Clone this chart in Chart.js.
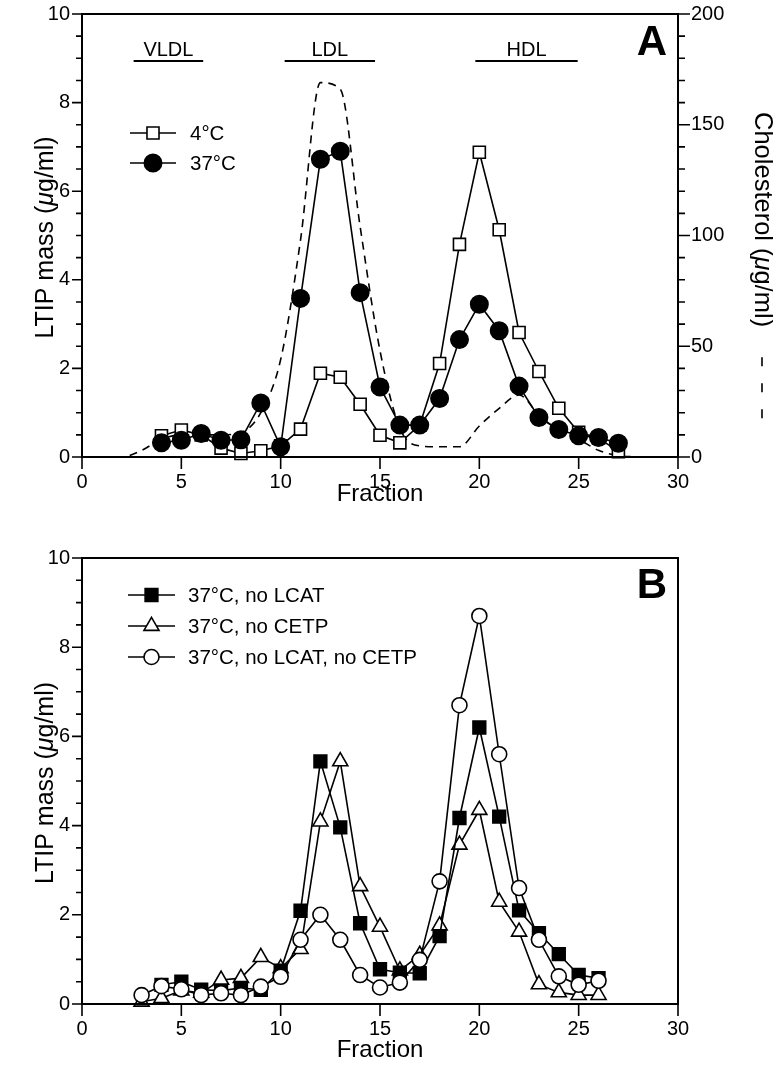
<!DOCTYPE html>
<html>
<head>
<meta charset="utf-8">
<script src="https://cdn.jsdelivr.net/npm/chart.js@4.4.1/dist/chart.umd.min.js"></script>
<style>
html, body { margin: 0; padding: 0; background: #fff; }
#wrapA { position: absolute; left: 0; top: 0; }
#wrapB { position: absolute; left: 0; top: 540px; }
</style>
</head>
<body>
<div id="wrapA"><canvas id="panelA" width="773" height="540"></canvas></div>
<div id="wrapB"><canvas id="panelB" width="773" height="538"></canvas></div>
<script>
// ---- panel A data ----
var fracA = [4, 5, 6, 7, 8, 9, 10, 11, 12, 13, 14, 15, 16, 17, 18, 19, 20, 21, 22, 23, 24, 25, 26, 27];
var mass4C = [0.48, 0.61, 0.5, 0.2, 0.08, 0.14, 0.25, 0.63, 1.89, 1.8, 1.19, 0.49, 0.32, 0.72, 2.11, 4.8, 6.88, 5.13, 2.81, 1.93, 1.1, 0.56, 0.43, 0.12];
var mass37C = [0.32, 0.38, 0.53, 0.38, 0.39, 1.22, 0.23, 3.58, 6.72, 6.9, 3.71, 1.58, 0.72, 0.72, 1.32, 2.65, 3.45, 2.85, 1.6, 0.89, 0.62, 0.48, 0.44, 0.31];
var fracChol = [1, 2, 3, 4, 5, 6, 7, 8, 9, 10, 11, 12, 13, 14, 15, 16, 17, 18, 19, 20, 21, 22, 23, 24, 25, 26, 27, 28];
var cholesterol = [0, 0, 3, 8, 10, 10, 10, 11, 20, 44, 98, 169, 166, 104, 48, 13, 5, 4.6, 4.6, 14, 22, 28, 19, 12, 8, 3, 0.6, 0];
var bandNames = ['VLDL', 'LDL', 'HDL'];
var bandFrom = [2.6, 10.2, 19.8];
var bandTo = [6.1, 14.75, 24.95];

// ---- panel B data ----
var fracB = [3, 4, 5, 6, 7, 8, 9, 10, 11, 12, 13, 14, 15, 16, 17, 18, 19, 20, 21, 22, 23, 24, 25, 26];
var fracBsq = [4, 5, 6, 7, 8, 9, 10, 11, 12, 13, 14, 15, 16, 17, 18, 19, 20, 21, 22, 23, 24, 25, 26];
var noLcat = [0.43, 0.5, 0.32, 0.3, 0.36, 0.32, 0.75, 2.09, 5.44, 3.96, 1.81, 0.78, 0.7, 0.69, 1.52, 4.17, 6.2, 4.2, 2.1, 1.59, 1.12, 0.65, 0.58];
var noCetp = [0.05, 0.13, 0.3, 0.25, 0.54, 0.58, 1.05, 0.8, 1.23, 4.09, 5.44, 2.64, 1.73, 0.75, 1.1, 1.76, 3.57, 4.35, 2.29, 1.62, 0.44, 0.26, 0.2, 0.2];
var noBoth = [0.2, 0.4, 0.33, 0.2, 0.24, 0.2, 0.39, 0.61, 1.44, 2.0, 1.44, 0.65, 0.37, 0.48, 0.99, 2.75, 6.7, 8.7, 5.6, 2.6, 1.44, 0.62, 0.43, 0.52];

var FONT = '"Liberation Sans", Arial, Helvetica, sans-serif';

function pts(xs, ys) {
    return xs.map(function(x, i) { return {x: x, y: ys[i]}; });
}

function drawMarker(ctx, style, r, x, y, fill) {
    ctx.save();
    ctx.fillStyle = fill;
    ctx.strokeStyle = '#000';
    ctx.lineWidth = 1.6;
    ctx.beginPath();
    if (style === 'rect') {
        var s = Math.SQRT1_2 * r;
        ctx.rect(x - s, y - s, 2 * s, 2 * s);
    } else if (style === 'triangle') {
        ctx.moveTo(x, y - r);
        ctx.lineTo(x + Math.sin(Math.PI * 2 / 3) * r, y + r / 2);
        ctx.lineTo(x - Math.sin(Math.PI * 2 / 3) * r, y + r / 2);
        ctx.closePath();
    } else {
        ctx.arc(x, y, r, 0, Math.PI * 2);
    }
    ctx.fill();
    ctx.stroke();
    ctx.restore();
}

// rotated label with an italic mu; starts at the given point
function mixedText(ctx, parts, x, y, angle, size, start, dash) {
    ctx.save();
    ctx.translate(x, y);
    ctx.rotate(angle);
    ctx.textBaseline = 'middle';
    ctx.fillStyle = '#000';
    var total = 0;
    parts.forEach(function(p) {
        ctx.font = (p.italic ? 'italic ' : '') + size + 'px ' + FONT;
        p.w = ctx.measureText(p.t).width;
        total += p.w;
    });
    var cx = start === null ? -total / 2 : start;
    parts.forEach(function(p) {
        ctx.font = (p.italic ? 'italic ' : '') + size + 'px ' + FONT;
        ctx.fillText(p.t, cx, 0);
        cx += p.w;
    });
    if (dash) {
        ctx.beginPath();
        ctx.setLineDash([9, 17]);
        ctx.lineWidth = 1.6;
        ctx.moveTo(cx + dash[0], 0);
        ctx.lineTo(cx + dash[0] + dash[1], 0);
        ctx.stroke();
    }
    ctx.restore();
}

function tickMarks(ctx, scale, side, values, len) {
    var a = scale.chart.chartArea;
    ctx.beginPath();
    values.forEach(function(v) {
        var p = scale.getPixelForValue(v);
        if (side === 'left') { ctx.moveTo(a.left, p); ctx.lineTo(a.left - len, p); }
        if (side === 'right') { ctx.moveTo(a.right, p); ctx.lineTo(a.right + len, p); }
        if (side === 'bottom') { ctx.moveTo(p, a.bottom); ctx.lineTo(p, a.bottom + len); }
    });
    ctx.stroke();
}

function range(a, b, step) {
    var out = [];
    for (var v = a; v <= b + 1e-9; v += step) out.push(Math.round(v * 100) / 100);
    return out;
}

function makeDecor(cfg) {
    return {
        id: 'decor',
        afterDraw: function(chart) {
            var ctx = chart.ctx, a = chart.chartArea;
            var x = chart.scales.x, y = chart.scales.y;
            ctx.save();
            ctx.strokeStyle = '#000';
            ctx.lineWidth = 2;
            ctx.strokeRect(a.left, a.top, a.right - a.left, a.bottom - a.top);
            ctx.lineWidth = 1.6;
            tickMarks(ctx, x, 'bottom', range(0, 30, 5), 12);
            tickMarks(ctx, y, 'left', range(0, 10, 2), 10);
            tickMarks(ctx, y, 'left', range(0.5, 9.5, 0.5).filter(function(v) { return v % 2 !== 0; }), 6);
            if (chart.scales.y2) {
                var y2 = chart.scales.y2;
                tickMarks(ctx, y2, 'right', range(0, 200, 50), 12);
                tickMarks(ctx, y2, 'right', range(10, 190, 10).filter(function(v) { return v % 50 !== 0; }), 7);
            }
            // left title
            var cy = (a.top + a.bottom) / 2;
            mixedText(ctx, [{t: 'LTIP mass ('}, {t: '\u03bc', italic: true}, {t: 'g/ml)'}], 46, cy + 2, -Math.PI / 2, 25, null, null);
            if (cfg.rightTitle) {
                mixedText(ctx, [{t: 'Cholesterol ('}, {t: '\u03bc', italic: true}, {t: 'g/ml)'}], 762, 112, Math.PI / 2, 25.5, 0, [30, 61]);
            }
            // panel letter
            ctx.fillStyle = '#000';
            ctx.font = 'bold 42px ' + FONT;
            ctx.textAlign = 'center';
            ctx.textBaseline = 'alphabetic';
            ctx.fillText(cfg.letter, 652, a.top + cfg.letterDy);
            // fraction bands
            if (cfg.bands) {
                ctx.font = '20px ' + FONT;
                ctx.lineWidth = 2.2;
                bandNames.forEach(function(name, i) {
                    var x0 = x.getPixelForValue(bandFrom[i]), x1 = x.getPixelForValue(bandTo[i]);
                    ctx.beginPath();
                    ctx.moveTo(x0, 61);
                    ctx.lineTo(x1, 61);
                    ctx.stroke();
                    ctx.fillText(name, (x0 + x1) / 2, 56);
                });
            }
            // legend
            ctx.font = '20.5px ' + FONT;
            ctx.textAlign = 'left';
            ctx.textBaseline = 'middle';
            ctx.lineWidth = 1.6;
            cfg.legend.forEach(function(item, i) {
                var ly = cfg.legendY[i];
                ctx.beginPath();
                ctx.moveTo(cfg.legendX[0], ly);
                ctx.lineTo(cfg.legendX[1], ly);
                ctx.stroke();
                drawMarker(ctx, item.style, item.r, (cfg.legendX[0] + cfg.legendX[1]) / 2, ly, item.fill);
                ctx.fillStyle = '#000';
                ctx.fillText(item.label, cfg.legendX[2], ly + 1);
            });
            ctx.restore();
        }
    };
}

function series(data, style, r, fill, order) {
    return {
        data: data,
        yAxisID: 'y',
        borderColor: '#000',
        borderWidth: 1.6,
        tension: 0,
        pointStyle: style,
        pointRadius: r,
        pointHoverRadius: r,
        pointBackgroundColor: fill,
        pointBorderColor: '#000',
        pointBorderWidth: 1.6,
        order: order,
        clip: false
    };
}

function baseScales(xHeight, titlePad) {
    return {
        x: {
            type: 'linear', min: 0, max: 30,
            afterFit: function(s) { s.height = xHeight; },
            grid: {display: false, drawTicks: true, tickLength: 12},
            border: {display: false},
            ticks: {stepSize: 5, padding: 1, color: '#000', font: {family: FONT, size: 20}, maxRotation: 0},
            title: {display: true, text: 'Fraction', color: '#000', font: {family: FONT, size: 24}, padding: {top: 0, bottom: titlePad}}
        },
        y: {
            type: 'linear', position: 'left', min: 0, max: 10,
            afterFit: function(s) { s.width = 82; },
            grid: {display: false, drawTicks: true, tickLength: 10},
            border: {display: false},
            ticks: {stepSize: 2, padding: 2, color: '#000', font: {family: FONT, size: 20}}
        }
    };
}

// ---- panel A ----
var scalesA = baseScales(83, 31);
scalesA.y2 = {
    type: 'linear', position: 'right', min: 0, max: 200,
    afterFit: function(s) { s.width = 95; },
    grid: {display: false, drawTicks: true, tickLength: 12},
    border: {display: false},
    ticks: {stepSize: 50, padding: 1, color: '#000', font: {family: FONT, size: 20}}
};

var cholSet = {
    data: pts(fracChol, cholesterol),
    yAxisID: 'y2',
    borderColor: '#000',
    borderWidth: 1.6,
    borderDash: [8, 6],
    cubicInterpolationMode: 'monotone',
    pointRadius: 0,
    order: 5
};

new Chart(document.getElementById('panelA'), {
    type: 'line',
    data: {
        datasets: [
            series(pts(fracA, mass37C), 'circle', 8.7, '#000', 1),
            series(pts(fracA, mass4C), 'rect', 8.5, '#fff', 2),
            cholSet
        ]
    },
    options: {
        responsive: false,
        animation: false,
        layout: {padding: {top: 11, left: 0, right: 0, bottom: 0}},
        plugins: {legend: {display: false}, tooltip: {enabled: false}},
        scales: scalesA
    },
    plugins: [makeDecor({
        letter: 'A', letterDy: 41, bands: true, rightTitle: true,
        legendX: [130, 176, 190], legendY: [133, 163],
        legend: [
            {label: '4\u00b0C', style: 'rect', r: 8.5, fill: '#fff'},
            {label: '37\u00b0C', style: 'circle', r: 8.7, fill: '#000'}
        ]
    })]
});

// ---- panel B ----
new Chart(document.getElementById('panelB'), {
    type: 'line',
    data: {
        datasets: [
            series(pts(fracB, noBoth), 'circle', 7.5, '#fff', 1),
            series(pts(fracBsq, noLcat), 'rect', 9, '#000', 2),
            series(pts(fracB, noCetp), 'triangle', 8.7, '#fff', 3)
        ]
    },
    options: {
        responsive: false,
        animation: false,
        layout: {padding: {top: 18, left: 0, right: 95, bottom: 0}},
        plugins: {legend: {display: false}, tooltip: {enabled: false}},
        scales: baseScales(74, 13)
    },
    plugins: [makeDecor({
        letter: 'B', letterDy: 40, bands: false, rightTitle: false,
        legendX: [128, 175, 188], legendY: [55, 86, 117],
        legend: [
            {label: '37\u00b0C, no LCAT', style: 'rect', r: 9, fill: '#000'},
            {label: '37\u00b0C, no CETP', style: 'triangle', r: 8.7, fill: '#fff'},
            {label: '37\u00b0C, no LCAT, no CETP', style: 'circle', r: 7.5, fill: '#fff'}
        ]
    })]
});
</script>
</body>
</html>
